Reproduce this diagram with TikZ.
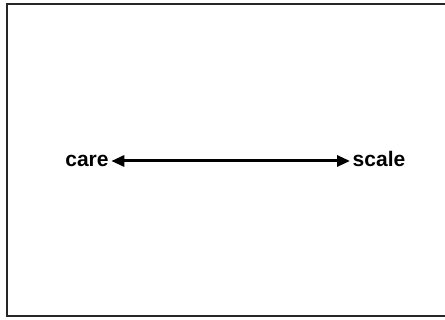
\documentclass[tikz,border=0pt]{standalone}
\usepackage{fontspec}
\setmainfont{Liberation Sans}
\usetikzlibrary{arrows.meta}
\begin{document}
\begin{tikzpicture}[x=1pt,y=1pt,
  lbl/.style={font=\bfseries\fontsize{21}{24}\selectfont, inner sep=2.5pt, anchor=base},
  link/.style={line width=3pt, {Triangle[length=13pt,width=11pt]}-{Triangle[length=13pt,width=11pt]}}]
\useasboundingbox (0,0) rectangle (445,320);
\begin{scope}
\clip (0,0) rectangle (445,320);
\draw[line width=1.5pt, draw=black!85] (7,4) rectangle (460,316);
\end{scope}
\node[lbl] (care) at (87,153) {care};
\node[lbl] (scale) at (379,153) {scale};
\draw[link] (care.east |- 0,159) -- (scale.west |- 0,159);
\end{tikzpicture}
\end{document}
